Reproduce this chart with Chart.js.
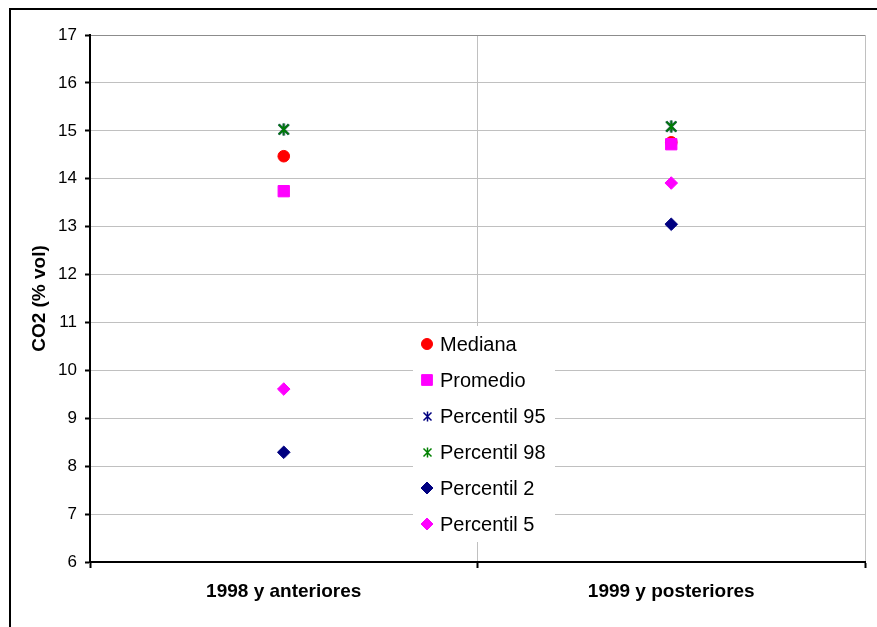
<!DOCTYPE html>
<html>
<head>
<meta charset="utf-8">
<script src="https://cdn.jsdelivr.net/npm/chart.js@4.4.1/dist/chart.umd.min.js"></script>
<style>
  html, body { margin: 0; padding: 0; background: #fff; overflow: hidden; }
  #wrap { width: 877px; height: 627px; }
</style>
</head>
<body>
<div id="wrap"><canvas id="grafico" width="877" height="627"></canvas></div>
<script>
const categorias = ['1998 y anteriores', '1999 y posteriores'];
const mediana = [14.47, 14.76];
const promedio = [13.74, 14.72];
const percentil95 = [15.03, 15.09];
const percentil98 = [15.03, 15.09];
const percentil2 = [8.29, 13.05];
const percentil5 = [9.61, 13.91];
const yTicks = [6, 7, 8, 9, 10, 11, 12, 13, 14, 15, 16, 17];

const FUENTE = "'Liberation Sans', Arial, sans-serif";

// asterisco estilo Excel (X con barra vertical)
function crearAsterisco(color, tam, grosor) {
    const c = document.createElement('canvas');
    c.width = tam; c.height = tam;
    const g = c.getContext('2d');
    g.strokeStyle = color;
    g.lineWidth = grosor;
    const m = tam / 2, r = tam / 2 - 1.5;
    g.beginPath();
    g.moveTo(m - r, m - r); g.lineTo(m + r, m + r);
    g.moveTo(m + r, m - r); g.lineTo(m - r, m + r);
    g.moveTo(m, 0.5); g.lineTo(m, tam - 0.5);
    g.stroke();
    return c;
}

const series = [
    { label: 'Mediana', data: mediana, color: '#ff0000', estilo: 'circle', radio: 5.8 },
    { label: 'Promedio', data: promedio, color: '#ff00ff', estilo: 'rect', radio: 8 },
    { label: 'Percentil 95', data: percentil95, color: '#000080', estilo: crearAsterisco('#000080', 13, 1.8), legendaImg: crearAsterisco('#000080', 11, 1.5) },
    { label: 'Percentil 98', data: percentil98, color: '#008000', estilo: crearAsterisco('#008000', 13, 1.8), legendaImg: crearAsterisco('#008000', 11, 1.5) },
    { label: 'Percentil 2', data: percentil2, color: '#000080', estilo: 'rectRot', radio: 6.3 },
    { label: 'Percentil 5', data: percentil5, color: '#ff00ff', estilo: 'rectRot', radio: 6.3 }
];

function dibujarMarcador(ctx, s, x, y, escala) {
    ctx.save();
    ctx.fillStyle = s.color;
    ctx.strokeStyle = s.color;
    ctx.lineWidth = 1;
    if (typeof s.estilo !== 'string') {
        const img = s.legendaImg;
        ctx.drawImage(img, Math.round(x - img.width / 2), Math.round(y - img.height / 2));
    } else {
        const r = s.radio * escala;
        ctx.beginPath();
        if (s.estilo === 'circle') {
            ctx.arc(x, y, r, 0, Math.PI * 2);
        } else if (s.estilo === 'rect') {
            const h = r * Math.SQRT1_2;
            ctx.rect(x - h, y - h, 2 * h, 2 * h);
        } else {
            ctx.moveTo(x, y - r); ctx.lineTo(x + r, y);
            ctx.lineTo(x, y + r); ctx.lineTo(x - r, y);
            ctx.closePath();
        }
        ctx.fill();
        ctx.stroke();
    }
    ctx.restore();
}

// fondo y marco exterior
const marcoPlugin = {
    id: 'marco',
    beforeDraw(chart) {
        const ctx = chart.ctx;
        ctx.save();
        ctx.fillStyle = '#fff';
        ctx.fillRect(0, 0, chart.width, chart.height);
        ctx.strokeStyle = '#000';
        ctx.lineWidth = 2;
        ctx.beginPath();
        ctx.moveTo(10, chart.height);
        ctx.lineTo(10, 9);
        ctx.lineTo(chart.width, 9);
        ctx.stroke();
        ctx.restore();
    }
};

// leyenda dentro del área del gráfico
const leyendaPlugin = {
    id: 'leyendaInterna',
    afterDraw(chart) {
        const ctx = chart.ctx;
        ctx.save();
        ctx.fillStyle = '#fff';
        ctx.fillRect(413, 326, 142, 216);
        ctx.font = '20px ' + FUENTE;
        ctx.textBaseline = 'middle';
        ctx.textAlign = 'left';
        series.forEach((s, i) => {
            const y = 344 + i * 36;
            dibujarMarcador(ctx, s, 427, y, 0.95);
            ctx.fillStyle = '#000';
            ctx.fillText(s.label, 440, y + 1);
        });
        ctx.restore();
    }
};

const datasets = series.map((s, i) => ({
    label: s.label,
    data: s.data,
    showLine: false,
    pointStyle: s.estilo,
    pointRadius: s.radio || 6,
    pointHoverRadius: s.radio || 6,
    pointBackgroundColor: s.color,
    pointBorderColor: s.color,
    pointBorderWidth: 1,
    borderColor: s.color,
    backgroundColor: s.color,
    order: series.length - i
}));

new Chart(document.getElementById('grafico').getContext('2d'), {
    type: 'line',
    data: { labels: categorias, datasets: datasets },
    options: {
        responsive: false,
        animation: false,
        devicePixelRatio: 1,
        layout: { padding: { top: 35, right: 12, bottom: 0, left: 0 } },
        plugins: {
            legend: { display: false },
            tooltip: { enabled: false }
        },
        scales: {
            x: {
                type: 'category',
                offset: true,
                afterFit: function (scale) { scale.height = 65; },
                grid: {
                    offset: true,
                    color: ctx => ctx.index === 2 ? '#8c8c8c' : '#c0c0c0',
                    lineWidth: 1,
                    tickColor: '#000',
                    tickLength: 6,
                    tickWidth: 2
                },
                border: { color: '#000', width: 2 },
                ticks: {
                    color: '#000',
                    padding: 12,
                    font: { family: FUENTE, size: 19, weight: 'bold' }
                }
            },
            y: {
                min: 6,
                max: 17,
                afterFit: function (scale) { scale.width = 90; },
                afterBuildTicks: function (scale) {
                    scale.ticks = yTicks.map(v => ({ value: v }));
                },
                grid: {
                    color: ctx => (ctx.tick && ctx.tick.value === 17) ? '#8c8c8c' : '#c0c0c0',
                    lineWidth: 1,
                    tickColor: '#000',
                    tickLength: 5,
                    tickWidth: 2
                },
                border: { color: '#000', width: 2 },
                ticks: {
                    color: '#000',
                    padding: 8,
                    font: { family: FUENTE, size: 17 }
                },
                title: {
                    display: true,
                    text: 'CO2 (% vol)',
                    color: '#000',
                    padding: { top: 28, bottom: 0 },
                    font: { family: FUENTE, size: 19, weight: 'bold' }
                }
            }
        }
    },
    plugins: [marcoPlugin, leyendaPlugin]
});
</script>
</body>
</html>
